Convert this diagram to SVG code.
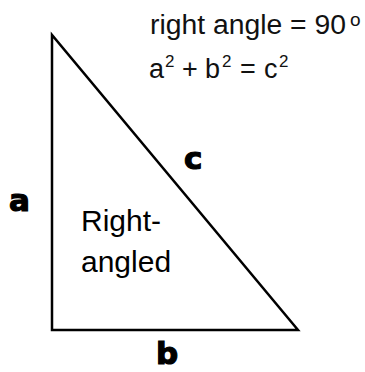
<svg xmlns="http://www.w3.org/2000/svg" width="365" height="372" viewBox="0 0 365 372">
  <style>
    .edge { fill: none; stroke: #000; stroke-width: 2.5; stroke-linejoin: miter; stroke-miterlimit: 10; }
    .lbl { font-family: "DejaVu Sans", "Liberation Sans", sans-serif; font-weight: bold; font-size: 31px; fill: #000; stroke: #000; stroke-width: 1.2px; }
    .body { font-family: "Liberation Sans", Arial, sans-serif; font-size: 30px; fill: #000; }
    .note { font-family: "Liberation Sans", Arial, sans-serif; font-size: 27px; fill: #111; }
    .sup { font-size: 17px; }
  </style>
  <rect width="365" height="372" fill="#fff"/>
  <g id="connectors">
    <polygon class="edge" points="52,35 52,330 298,330"/>
  </g>
  <g id="triangle-label">
    <text class="body" x="81" y="231">Right-</text>
    <text class="body" x="81" y="272">angled</text>
  </g>
  <g id="side-a">
    <text class="lbl" x="9" y="211">a</text>
  </g>
  <g id="side-b">
    <text class="lbl" x="156" y="364">b</text>
  </g>
  <g id="side-c">
    <text class="lbl" x="184" y="169">c</text>
  </g>
  <g id="notes">
    <text class="note" x="150" y="34" textLength="196" lengthAdjust="spacingAndGlyphs">right angle = 90</text>
    <text class="note" x="350" y="26" style="font-size:19px">o</text>
    <text class="note">
      <tspan x="149" y="78">a</tspan><tspan class="sup" x="165" y="67">2</tspan><tspan x="182" y="78">+</tspan><tspan x="205" y="78">b</tspan><tspan class="sup" x="222" y="67">2</tspan><tspan x="240" y="78">=</tspan><tspan x="264" y="78">c</tspan><tspan class="sup" x="279" y="67">2</tspan>
    </text>
  </g>
</svg>
